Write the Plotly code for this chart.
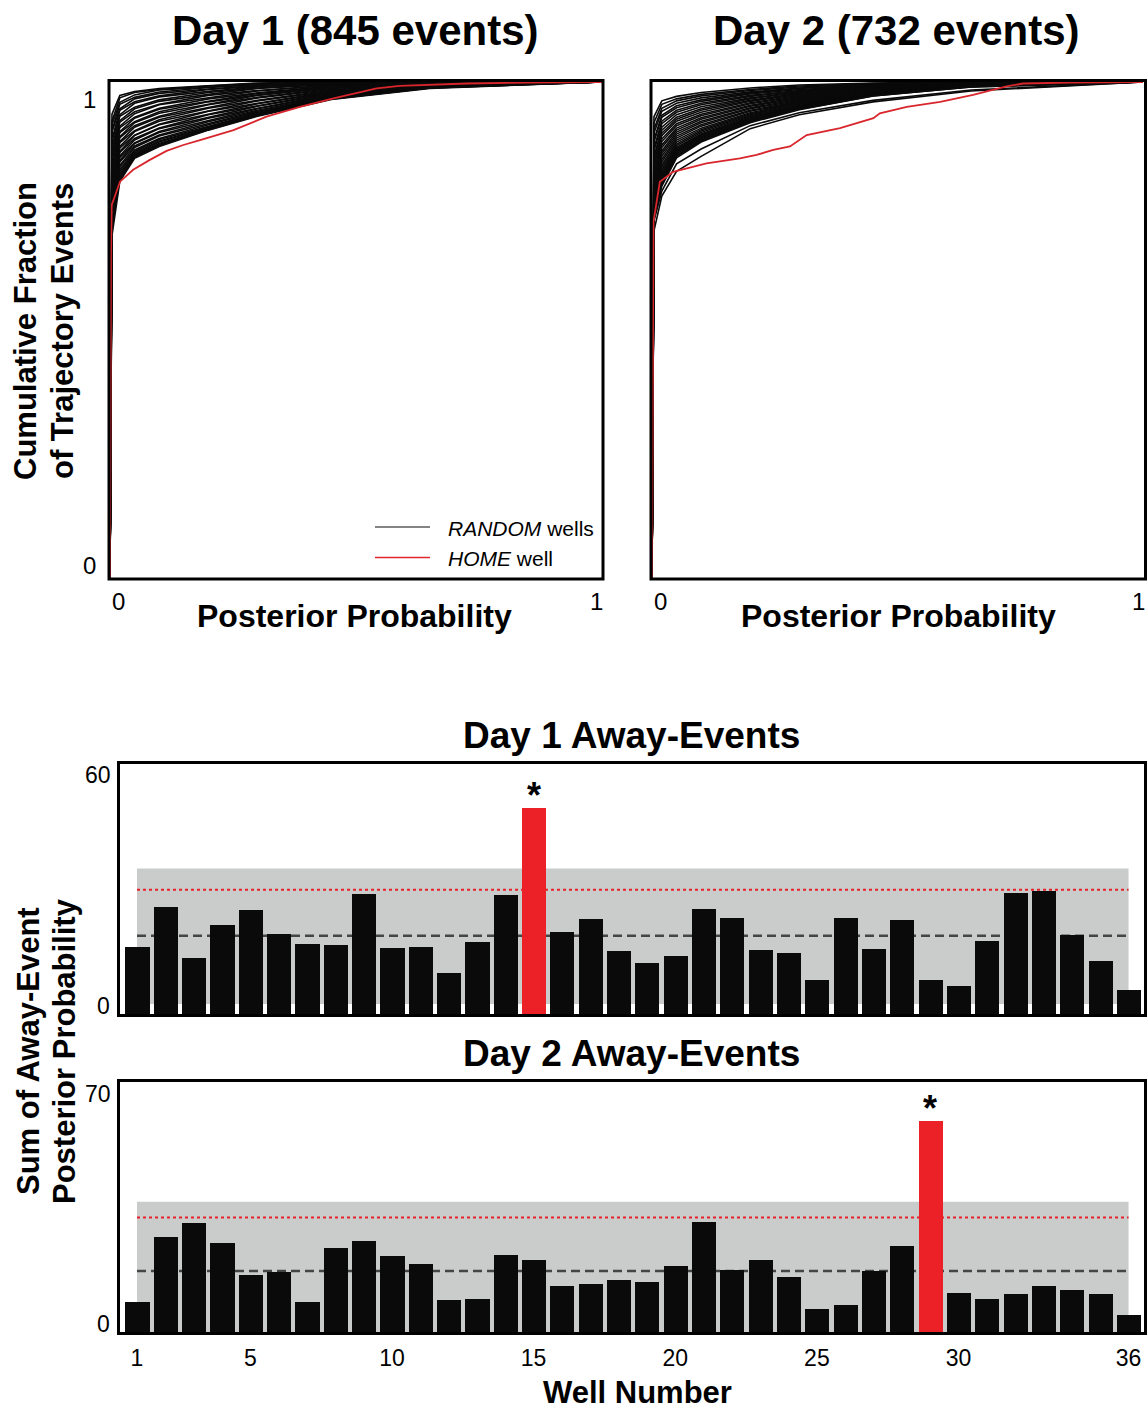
import plotly.graph_objects as go

W, H = 1148, 1410
FONT = "Liberation Sans, Arial, Helvetica, sans-serif"

# ---------------- data: cumulative curves (top panels) ----------------
GRID_X = [0, 0.004, 0.02, 0.05, 0.1, 0.2, 0.3, 0.45, 0.65, 1.0]

DAY1_RANDOM = [
    [0, .935, .973, .981, .987, .993, .998, 1, 1, 1],
    [0, .921, .968, .979, .985, .992, .997, 1, 1, 1],
    [0, .914, .959, .974, .984, .990, .995, .999, 1, 1],
    [0, .902, .955, .969, .980, .989, .995, .999, 1, 1],
    [0, .899, .946, .966, .977, .986, .993, .998, 1, 1],
    [0, .884, .943, .960, .972, .985, .991, .998, 1, 1],
    [0, .881, .934, .957, .970, .981, .990, .997, 1, 1],
    [0, .869, .931, .949, .964, .979, .988, .996, 1, 1],
    [0, .866, .922, .946, .961, .975, .987, .995, .999, 1],
    [0, .855, .919, .940, .955, .973, .983, .994, .999, 1],
    [0, .852, .911, .936, .954, .968, .982, .993, .999, 1],
    [0, .843, .908, .929, .947, .966, .978, .992, .998, 1],
    [0, .846, .900, .927, .945, .961, .977, .990, .998, 1],
    [0, .831, .898, .920, .940, .960, .974, .990, .998, 1],
    [0, .833, .890, .918, .937, .955, .973, .988, .997, 1],
    [0, .820, .888, .912, .931, .954, .969, .987, .997, 1],
    [0, .824, .880, .909, .929, .949, .968, .985, .996, 1],
    [0, .809, .878, .902, .924, .947, .963, .984, .996, 1],
    [0, .812, .870, .900, .921, .942, .962, .982, .995, 1],
    [0, .798, .867, .893, .915, .941, .957, .981, .995, 1],
    [0, .801, .860, .892, .914, .935, .956, .979, .994, 1],
    [0, .787, .858, .886, .907, .934, .952, .978, .994, 1],
    [0, .792, .851, .883, .906, .928, .951, .976, .993, 1],
    [0, .776, .848, .877, .900, .927, .947, .975, .993, 1],
    [0, .781, .842, .876, .898, .922, .946, .973, .992, 1],
    [0, .768, .839, .871, .893, .920, .943, .972, .992, 1],
    [0, .772, .832, .868, .891, .916, .941, .970, .991, 1],
    [0, .760, .829, .863, .886, .914, .939, .969, .991, 1],
    [0, .757, .824, .860, .884, .911, .937, .968, .990, 1],
    [0, .748, .820, .857, .881, .909, .936, .968, .990, 1],
    [0, .741, .816, .854, .879, .908, .935, .967, .989, 1],
    [0, .728, .812, .852, .876, .906, .934, .967, .989, 1],
    [0, .712, .808, .850, .874, .905, .933, .966, .988, 1],
    [0, .705, .804, .848, .872, .904, .932, .966, .988, 1],
    [0, .690, .800, .846, .870, .903, .931, .965, .987, 1],
]

DAY2_RANDOM = [
    [0, .930, .962, .971, .979, .988, .994, .998, 1, 1],
    [0, .918, .955, .966, .975, .985, .992, .997, 1, 1],
    [0, .905, .947, .962, .972, .983, .990, .996, 1, 1],
    [0, .897, .941, .957, .968, .980, .988, .995, 1, 1],
    [0, .884, .933, .952, .964, .978, .987, .994, .999, 1],
    [0, .879, .929, .948, .961, .976, .985, .993, .999, 1],
    [0, .866, .921, .943, .957, .973, .983, .992, .999, 1],
    [0, .861, .916, .939, .954, .971, .982, .992, .998, 1],
    [0, .849, .909, .934, .950, .968, .980, .991, .998, 1],
    [0, .843, .903, .929, .946, .966, .979, .990, .998, 1],
    [0, .835, .897, .925, .943, .963, .977, .989, .997, 1],
    [0, .828, .892, .921, .939, .961, .975, .988, .997, 1],
    [0, .819, .885, .916, .935, .958, .973, .987, .997, 1],
    [0, .814, .880, .912, .932, .956, .971, .986, .996, 1],
    [0, .806, .873, .907, .928, .953, .969, .985, .996, 1],
    [0, .799, .868, .903, .925, .951, .967, .984, .996, 1],
    [0, .792, .861, .899, .921, .948, .965, .983, .995, 1],
    [0, .786, .856, .895, .918, .946, .963, .982, .995, 1],
    [0, .779, .850, .891, .914, .943, .961, .981, .995, 1],
    [0, .772, .844, .887, .911, .941, .959, .980, .994, 1],
    [0, .766, .839, .883, .907, .938, .958, .979, .994, 1],
    [0, .760, .833, .879, .904, .936, .956, .978, .994, 1],
    [0, .754, .828, .875, .901, .934, .955, .978, .993, 1],
    [0, .748, .823, .872, .898, .932, .953, .977, .993, 1],
    [0, .745, .818, .868, .895, .930, .952, .976, .993, 1],
    [0, .742, .814, .865, .893, .928, .951, .976, .992, 1],
    [0, .739, .810, .862, .891, .927, .950, .975, .992, 1],
    [0, .736, .806, .860, .889, .925, .949, .975, .992, 1],
    [0, .733, .803, .857, .887, .924, .948, .974, .991, 1],
    [0, .730, .800, .855, .885, .922, .947, .974, .991, 1],
    [0, .728, .797, .852, .883, .921, .946, .973, .991, 1],
    [0, .725, .794, .850, .881, .920, .945, .972, .990, 1],
    [0, .722, .790, .847, .879, .918, .944, .972, .990, 1],
    [0, .720, .780, .835, .865, .912, .938, .963, .984, 1],
    [0, .700, .770, .820, .850, .906, .934, .960, .982, 1],
]

DAY1_HOME_X = [0, 0.001, 0.002, 0.0035, 0.0203, 0.047, 0.081, 0.115, 0.149, 0.183,
               0.251, 0.318, 0.386, 0.454, 0.542, 0.589, 0.725, 0.85, 1.0]
DAY1_HOME_Y = [0, 0.45, 0.65, 0.752, 0.799, 0.823, 0.843, 0.861, 0.873, 0.883,
               0.903, 0.930, 0.950, 0.967, 0.987, 0.992, 0.997, 0.999, 1.0]

DAY2_HOME_X = [0, 0.001, 0.002, 0.003, 0.016, 0.043, 0.111, 0.179, 0.213, 0.247, 0.281,
               0.301, 0.315, 0.383, 0.451, 0.464, 0.519, 0.587, 0.654, 0.722, 0.756,
               0.85, 1.0]
DAY2_HOME_Y = [0, 0.45, 0.62, 0.718, 0.799, 0.819, 0.836, 0.846, 0.853, 0.863, 0.870,
               0.883, 0.893, 0.907, 0.927, 0.937, 0.950, 0.960, 0.974, 0.991, 0.997,
               0.999, 1.0]

# ---------------- data: away-event sums (bottom panels) ----------------
WELLS = list(range(1, 37))
DAY1_SUM = [15.9, 25.5, 13.3, 21.3, 24.9, 19.2, 16.8, 16.5, 28.8, 15.8, 15.9, 9.9,
            17.3, 28.4, 49.2, 19.5, 22.7, 15.1, 12.1, 13.9, 25.2, 23.0, 15.3, 14.5,
            8.1, 23.0, 15.5, 22.4, 8.1, 6.8, 17.4, 29.0, 29.5, 18.9, 12.7, 5.7]
DAY2_SUM = [8.4, 26.4, 30.4, 24.8, 15.8, 16.8, 8.4, 23.5, 25.5, 21.1, 19.1, 8.8,
            9.3, 21.5, 20.2, 12.8, 13.4, 14.5, 13.9, 18.4, 30.8, 17.4, 20.0, 15.3,
            6.5, 7.5, 17.0, 24.0, 58.8, 11.0, 9.3, 10.7, 12.9, 11.7, 10.5, 4.7]
DAY1_HOME_WELL = 15
DAY2_HOME_WELL = 29
DAY1_BAND = (2.4, 34.8)     # shaded shuffle range (low, high)
DAY2_BAND = (0.0, 36.3)
DAY1_SIG = 29.7             # red dotted significance level
DAY2_SIG = 31.9
DAY1_MEAN = 18.7            # black dashed mean
DAY2_MEAN = 17.0
WELL_TICKS = [1, 5, 10, 15, 20, 25, 30, 36]

TOP_TITLES = ["Day 1 (845 events)", "Day 2 (732 events)"]
BAR_TITLES = ["Day 1 Away-Events", "Day 2 Away-Events"]

BLACK = "#0a0a0a"
RED = "#d8262c"
BAR_RED = "#ec2027"
GRAY = "#cacccb"


def px(xp):
    return xp / W


def py(yp):
    return 1 - yp / H


fig = go.Figure()

# top panels
for ax, rows, hx, hy in [("", DAY1_RANDOM, DAY1_HOME_X, DAY1_HOME_Y),
                         ("2", DAY2_RANDOM, DAY2_HOME_X, DAY2_HOME_Y)]:
    for r in rows:
        fig.add_trace(go.Scatter(x=GRID_X, y=r, mode="lines",
                                 line=dict(color=BLACK, width=1.6),
                                 xaxis="x" + ax, yaxis="y" + ax,
                                 showlegend=False, hoverinfo="skip"))
    fig.add_trace(go.Scatter(x=hx, y=hy, mode="lines",
                             line=dict(color=RED, width=1.8),
                             xaxis="x" + ax, yaxis="y" + ax,
                             showlegend=False, hoverinfo="skip"))

# bar panels
for ax, vals, home, band, sig, mean in [("3", DAY1_SUM, DAY1_HOME_WELL, DAY1_BAND, DAY1_SIG, DAY1_MEAN),
                                        ("4", DAY2_SUM, DAY2_HOME_WELL, DAY2_BAND, DAY2_SIG, DAY2_MEAN)]:
    xr, yr = "x" + ax, "y" + ax
    fig.add_shape(type="rect", xref=xr, yref=yr, x0=WELLS[0], x1=WELLS[-1],
                  y0=band[0], y1=band[1], fillcolor=GRAY, line=dict(width=0), layer="below")
    fig.add_shape(type="line", xref=xr, yref=yr, x0=WELLS[0], x1=WELLS[-1], y0=sig, y1=sig,
                  line=dict(color="#e8202a", width=2, dash="3px,3px"), layer="below")
    fig.add_shape(type="line", xref=xr, yref=yr, x0=WELLS[0], x1=WELLS[-1], y0=mean, y1=mean,
                  line=dict(color="#454545", width=2.5, dash="9px,5px"), layer="below")
    colors = [BAR_RED if w == home else BLACK for w in WELLS]
    fig.add_trace(go.Bar(x=WELLS, y=vals, width=0.85, marker=dict(color=colors, line=dict(width=0)),
                         xaxis=xr, yaxis=yr, showlegend=False, hoverinfo="skip"))
    fig.add_annotation(x=home, y=vals[WELLS.index(home)], xref=xr, yref=yr,
                       text="<b>*</b>", showarrow=False, yanchor="bottom", yshift=-10,
                       font=dict(size=36, family=FONT, color="black"))

hidden = dict(showgrid=False, zeroline=False, showline=False, showticklabels=False, ticks="")
bar_x0, bar_x1 = 0.382, 36.563
fig.update_layout(
    width=W, height=H, margin=dict(l=0, r=0, t=0, b=0),
    paper_bgcolor="white", plot_bgcolor="rgba(0,0,0,0)",
    font=dict(family=FONT, color="black"),
    bargap=0,
    xaxis=dict(domain=[px(110), px(602)], range=[0, 1], anchor="y", **hidden),
    yaxis=dict(domain=[py(578), py(82)], range=[0, 1.0], anchor="x", **hidden),
    xaxis2=dict(domain=[px(652), px(1143)], range=[0, 1], anchor="y2", **hidden),
    yaxis2=dict(domain=[py(578), py(82)], range=[0, 1.0], anchor="x2", **hidden),
    xaxis3=dict(domain=[px(119.5), px(1144.5)], range=[bar_x0, bar_x1], anchor="y3", **hidden),
    yaxis3=dict(domain=[py(1014), py(763)], range=[0, 60], anchor="x3", **hidden),
    xaxis4=dict(domain=[px(119.5), px(1144.5)], range=[bar_x0, bar_x1], anchor="y4",
                showgrid=False, zeroline=False, showline=False, ticks="",
                tickmode="array", tickvals=WELL_TICKS, ticktext=[str(t) for t in WELL_TICKS],
                tickfont=dict(size=23, family=FONT, color="black"), ticklabelstandoff=10),
    yaxis4=dict(domain=[py(1332), py(1081)], range=[0, 70], anchor="x4", **hidden),
)

# frames
frames = [(109, 80.5, 603, 579), (651, 80.5, 1145.5, 579),
          (118.5, 762.5, 1145.5, 1015.5), (118.5, 1080.5, 1145.5, 1333.5)]
for x0, y0, x1, y1 in frames:
    fig.add_shape(type="rect", xref="paper", yref="paper", x0=px(x0), x1=px(x1),
                  y0=py(y1), y1=py(y0), line=dict(color="black", width=3), layer="above")

# legend (manual)
fig.add_shape(type="line", xref="paper", yref="paper", x0=px(375), x1=px(430), y0=py(527), y1=py(527),
              line=dict(color=BLACK, width=1.2))
fig.add_shape(type="line", xref="paper", yref="paper", x0=px(375), x1=px(430), y0=py(557.5), y1=py(557.5),
              line=dict(color="#e0282e", width=1.5))


def ann(text, x, y, size, bold=False, angle=0, xanchor="center", yanchor="middle"):
    fig.add_annotation(text=("<b>%s</b>" % text) if bold else text, x=px(x), y=py(y),
                       xref="paper", yref="paper", showarrow=False, textangle=angle,
                       xanchor=xanchor, yanchor=yanchor,
                       font=dict(size=size, family=FONT, color="black"))


ann("<i>RANDOM</i> wells", 446, 528, 21, xanchor="left")
ann("<i>HOME</i> well", 446, 558, 21, xanchor="left")

ann(TOP_TITLES[0], 355, 30, 42, bold=True)
ann(TOP_TITLES[1], 896, 30, 42, bold=True)
ann("Posterior Probability", 354, 616, 32, bold=True)
ann("Posterior Probability", 898, 616, 32, bold=True)
ann("Cumulative Fraction", 26, 331, 31, bold=True, angle=-90)
ann("of Trajectory Events", 63, 331, 31, bold=True, angle=-90)

ann("1", 89, 100, 24)
ann("0", 89, 565, 24)
ann("0", 118, 601, 24)
ann("1", 596, 601, 24)
ann("0", 660, 601, 24)
ann("1", 1138, 601, 24)

ann(BAR_TITLES[0], 631, 735, 37, bold=True)
ann(BAR_TITLES[1], 631, 1053, 37, bold=True)
ann("60", 113, 775, 23, xanchor="right")
ann("0", 112, 1006, 23, xanchor="right")
ann("70", 113, 1094, 23, xanchor="right")
ann("0", 112, 1324, 23, xanchor="right")
ann("Sum of Away-Event", 28, 1051, 31, bold=True, angle=-90)
ann("Posterior Probability", 64, 1051, 31, bold=True, angle=-90)
ann("Well Number", 637, 1392, 31, bold=True)

fig.write_html("out.html")
